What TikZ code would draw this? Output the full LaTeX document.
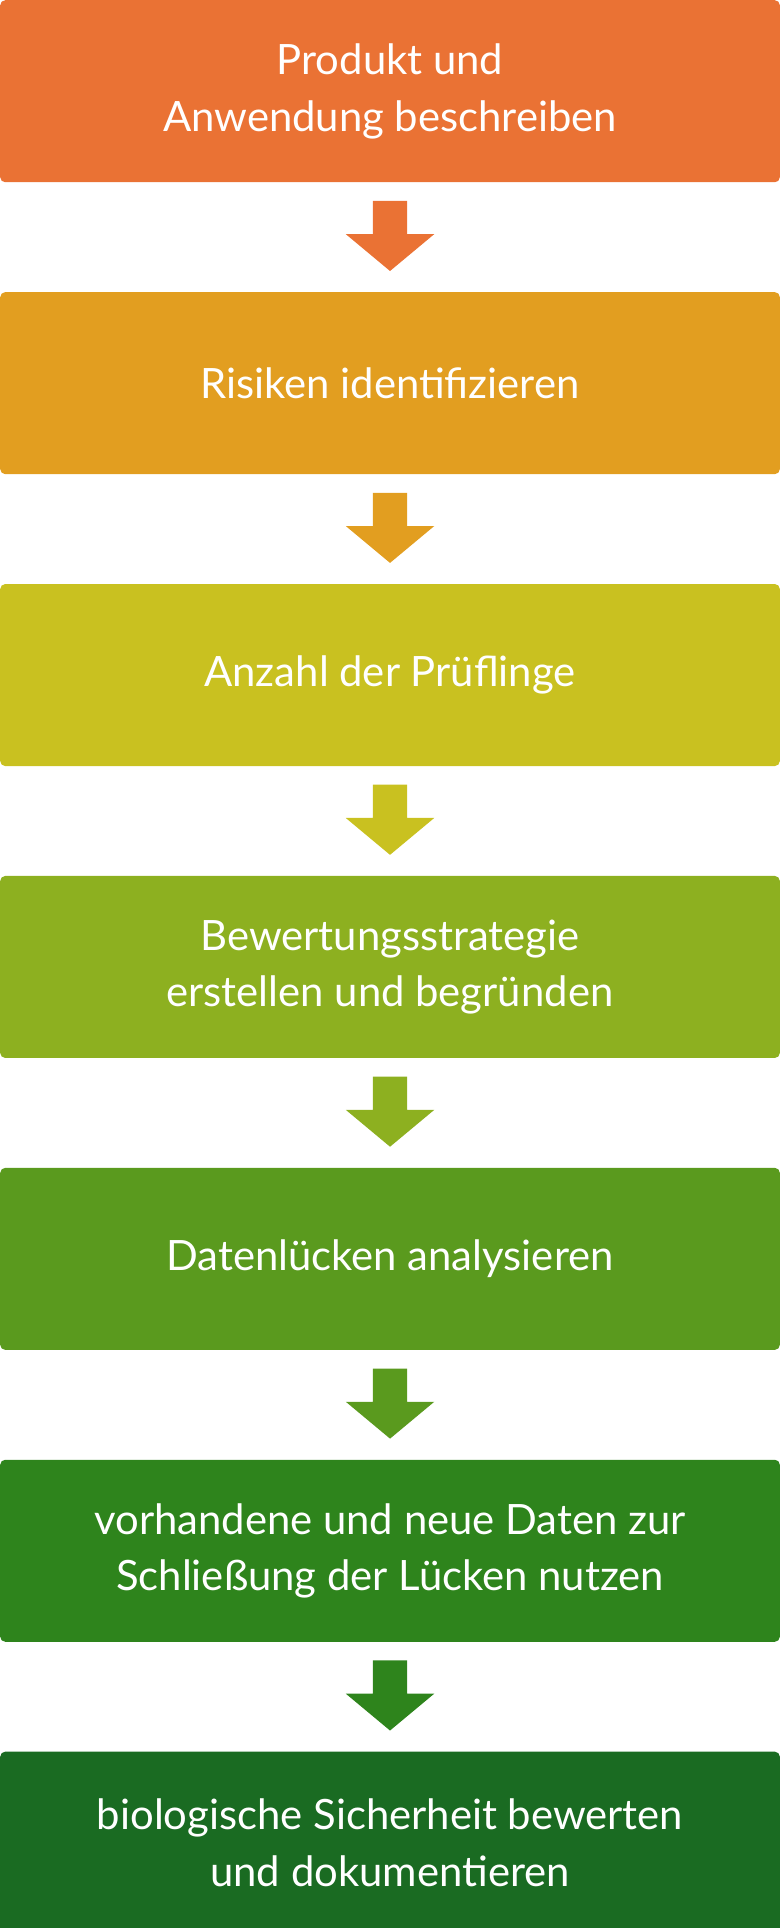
\documentclass[tikz,border=0pt]{standalone}
\usepackage{fontspec}
\setmainfont{Lato}
\usetikzlibrary{positioning,calc}
\definecolor{cA}{HTML}{EA7234}
\definecolor{cB}{HTML}{E29E20}
\definecolor{cC}{HTML}{C9C120}
\definecolor{cD}{HTML}{8DB020}
\definecolor{cE}{HTML}{5A9A1E}
\definecolor{cF}{HTML}{2E841C}
\definecolor{cG}{HTML}{1A6B22}
\begin{document}
\begin{tikzpicture}[
		x=1pt, y=1pt,
		node distance=89pt,
		step/.style={fill=#1, rounded corners=4pt, minimum height=148pt, minimum width=634pt,
			inner sep=0pt, align=center, text=white, font=\fontsize{34}{46}\selectfont},
	]
		\useasboundingbox (0,0) rectangle (634,-1568);
		\node (s1) [step=cA, anchor=north west] at (0,0) {Produkt und\\Anwendung beschreiben};
		\node (s2) [step=cB, below=of s1] {Risiken identifizieren};
		\node (s3) [step=cC, below=of s2] {Anzahl der Prüflinge};
		\node (s4) [step=cD, below=of s3] {Bewertungsstrategie\\erstellen und begründen};
		\node (s5) [step=cE, below=of s4] {Datenlücken analysieren};
		\node (s6) [step=cF, below=of s5] {vorhandene und neue Daten zur\\Schließung der Lücken nutzen};
		\node (s7) [step=cG, below=of s6] {biologische Sicherheit bewerten\\und dokumentieren};

		\foreach \a/\b/\c in {s1/s2/cA, s2/s3/cB, s3/s4/cC, s4/s5/cD, s5/s6/cE, s6/s7/cF} {
			\coordinate (m) at ($(\a.south)+(0,-15)$);
			\fill[\c] (m) ++(-14,0) -- ++(28,0) -- ++(0,-27) -- ++(22,0)
				-- ($(m)+(0,-57)$) -- ($(m)+(-36,-27)$) -- ++(22,0) -- cycle;
		}
	\end{tikzpicture}
\end{document}
